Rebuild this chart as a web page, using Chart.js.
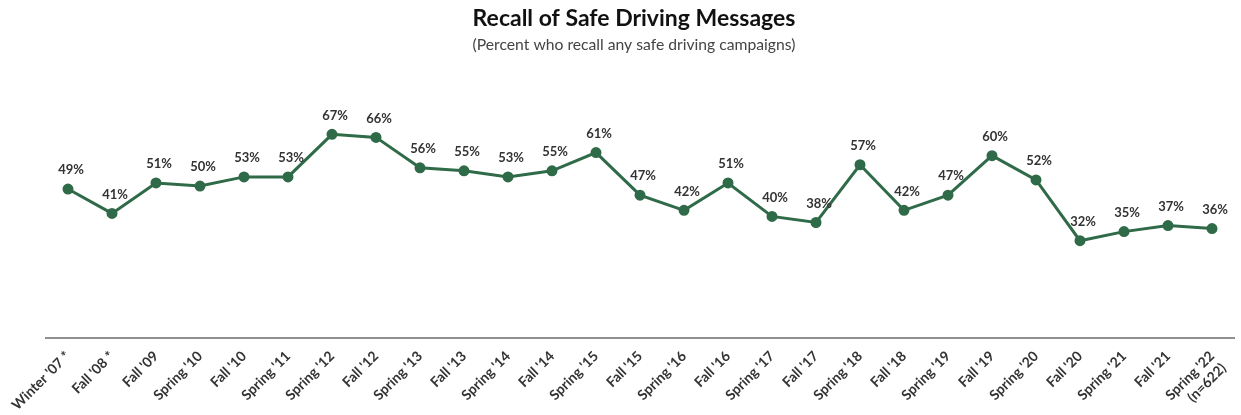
<!DOCTYPE html>
<html>
<head>
<meta charset="utf-8">
<script src="https://cdn.jsdelivr.net/npm/chart.js@4.4.1/dist/chart.umd.min.js"></script>
<style>
  html, body { margin: 0; padding: 0; background: #ffffff; }
  #wrap { width: 1241px; height: 415px; position: relative; }
</style>
</head>
<body>
<div id="wrap"><canvas id="c" width="1241" height="415"></canvas></div>
<script>
const categories = [
  "Winter '07 *", "Fall '08 *", "Fall '09", "Spring '10", "Fall '10", "Spring '11",
  "Spring '12", "Fall '12", "Spring '13", "Fall '13", "Spring '14", "Fall '14",
  "Spring '15", "Fall '15", "Spring '16", "Fall '16", "Spring '17", "Fall '17",
  "Spring '18", "Fall '18", "Spring '19", "Fall '19", "Spring '20", "Fall '20",
  "Spring '21", "Fall '21", ["Spring '22", "(n=622)"]
];
const recallPct = [49, 41, 51, 50, 53, 53, 67, 66, 56, 55, 53, 55, 61, 47, 42, 51, 40, 38, 57, 42, 47, 60, 52, 32, 35, 37, 36];
const titleText = "Recall of Safe Driving Messages";
const subtitleText = "(Percent who recall any safe driving campaigns)";

const lineColor = '#2f6b48';

const dataLabels = {
  id: 'dataLabels',
  afterDatasetsDraw(chart) {
    const ctx = chart.ctx;
    const meta = chart.getDatasetMeta(0);
    ctx.save();
    ctx.font = 'bold 13px Lato, "Open Sans", sans-serif';
    ctx.fillStyle = '#333333';
    ctx.textAlign = 'center';
    ctx.textBaseline = 'middle';
    meta.data.forEach((pt, i) => {
      ctx.fillText(recallPct[i] + '%', pt.x + 3, pt.y - 19);
    });
    ctx.restore();
  }
};

new Chart(document.getElementById('c'), {
  type: 'line',
  data: {
    labels: categories,
    datasets: [{
      data: recallPct,
      borderColor: lineColor,
      backgroundColor: lineColor,
      borderWidth: 3,
      pointRadius: 4,
      pointHoverRadius: 4,
      pointBackgroundColor: lineColor,
      pointBorderColor: lineColor,
      tension: 0
    }]
  },
  options: {
    responsive: false,
    animation: false,
    layout: { padding: { left: 26, right: -1, top: 0, bottom: 0 } },
    plugins: {
      legend: { display: false },
      tooltip: { enabled: false },
      title: {
        display: true,
        text: titleText,
        color: '#111111',
        font: { family: 'Lato, "Open Sans", sans-serif', size: 23, weight: 'bold' },
        padding: { top: 5, bottom: 3 }
      },
      subtitle: {
        display: true,
        text: subtitleText,
        color: '#444444',
        font: { family: 'Lato, "Open Sans", sans-serif', size: 15.7 },
        padding: { top: 0, bottom: 10 }
      }
    },
    scales: {
      x: {
        offset: true,
        grid: { display: false, drawTicks: false },
        border: { display: true, color: '#8f8f8f', width: 2 },
        afterFit(scale) {
          scale.paddingLeft = 46;
          scale.paddingRight = 0;
          scale.height = 77;
        },
        ticks: {
          autoSkip: false,
          maxRotation: 45,
          minRotation: 45,
          color: '#333333',
          padding: 10,
          font: { family: 'Lato, "Open Sans", sans-serif', size: 14, weight: 'bold' }
        }
      },
      y: {
        display: false,
        min: 0,
        max: 90
      }
    }
  },
  plugins: [dataLabels]
});
</script>
</body>
</html>
